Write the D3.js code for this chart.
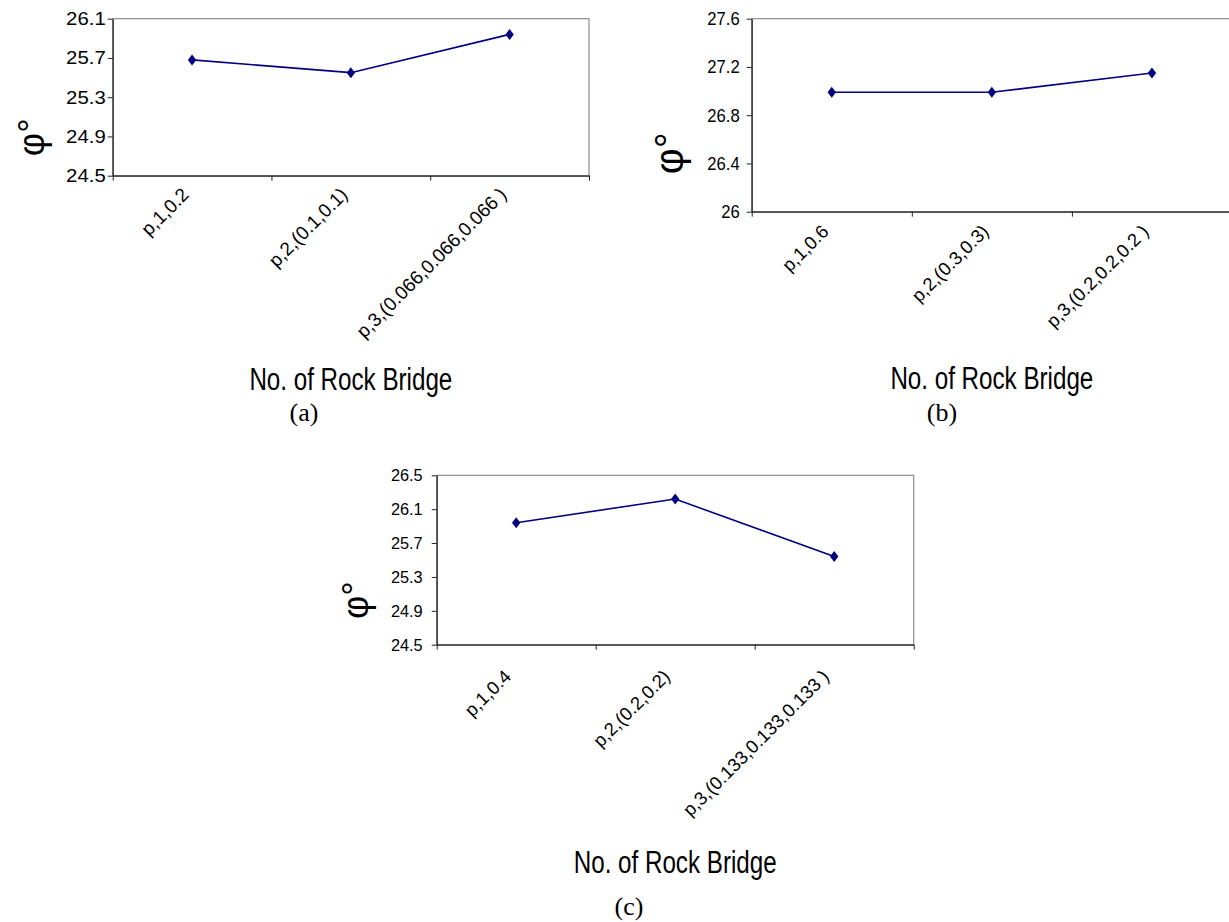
<!DOCTYPE html>
<html>
<head>
<meta charset="utf-8">
<script src="https://cdn.jsdelivr.net/npm/d3@7"></script>
<style>
  body { margin: 0; background: #fff; }
  svg { display: block; }
  text { font-family: "Liberation Sans", Arial, sans-serif; fill: #000; }
</style>
</head>
<body>
<div id="graph"></div>
<script>
// data
var categoriesA = ["p,1,0.2", "p,2,(0.1,0.1)", "p,3,(0.066,0.066,0.066 )"];
var valuesA = [25.68, 25.55, 25.94];
var yTicksA = [24.5, 24.9, 25.3, 25.7, 26.1];

var categoriesB = ["p,1,0.6", "p,2,(0.3,0.3)", "p,3,(0.2,0.2,0.2 )"];
var valuesB = [26.99, 26.99, 27.15];
var yTicksB = [26, 26.4, 26.8, 27.2, 27.6];

var categoriesC = ["p,1,0.4", "p,2,(0.2,0.2)", "p,3,(0.133,0.133,0.133 )"];
var valuesC = [25.94, 26.22, 25.54];
var yTicksC = [24.5, 24.9, 25.3, 25.7, 26.1, 26.5];

var xTitle = "No. of Rock Bridge";
var yTitle = "\u03C6\u00B0";
var panelTags = ["(a)", "(b)", "(c)"];

var width = 1229;
var height = 922;

var svg = d3.select("#graph").append("svg")
  .attr("width", width)
  .attr("height", height);

//squeeze / stretch a text node horizontally
function fitText(sel, factor) {
  sel.each(function() {
    var len = this.getComputedTextLength();
    d3.select(this)
      .attr("textLength", len * factor)
      .attr("lengthAdjust", "spacingAndGlyphs");
  });
}

var diamond = {
  draw: function(ctx, size) {
    ctx.moveTo(0, -5.5);
    ctx.lineTo(4.2, 0);
    ctx.lineTo(0, 5.5);
    ctx.lineTo(-4.2, 0);
    ctx.closePath();
  }
};

function renderPanel(p) {
  var g = svg.append("g");

  let x = d3.scaleBand()
    .domain(p.cats)
    .range([p.x0, p.x1])
    .paddingInner(0)
    .paddingOuter(0);
  let xt = d3.scaleLinear()
    .domain([0, p.cats.length])
    .range([p.x0, p.x1]);
  let y = d3.scaleLinear()
    .domain([p.ticks[0], p.ticks[p.ticks.length - 1]])
    .range([p.y1, p.y0]);

  //plot area border
  g.append("rect")
    .attr("x", p.x0)
    .attr("y", p.y0)
    .attr("width", p.x1 - p.x0)
    .attr("height", p.y1 - p.y0)
    .attr("fill", "none")
    .attr("stroke", "#8c8c8c")
    .attr("stroke-width", 1.2);

  //y axis
  let yAxis = g.append("g")
    .attr("transform", "translate(" + p.x0 + ",0)")
    .call(d3.axisLeft(y)
      .tickValues(p.ticks)
      .tickSize(5)
      .tickSizeOuter(0)
      .tickPadding(p.tickGap)
      .tickFormat(function(d) { return String(d); }));
  yAxis.select(".domain").attr("stroke", "#222").attr("stroke-width", 1.2);
  yAxis.selectAll(".tick line").attr("stroke", "#222");
  yAxis.selectAll(".tick text")
    .attr("font-family", null)
    .attr("font-size", p.tickFont)
    .attr("fill", "#000")
    .call(fitText, p.tickSx);

  //x axis, ticks on the category boundaries
  let xAxis = g.append("g")
    .attr("transform", "translate(0," + p.y1 + ")")
    .call(d3.axisBottom(xt)
      .tickValues(d3.range(p.cats.length + 1))
      .tickSize(5)
      .tickSizeOuter(0)
      .tickFormat(""));
  xAxis.select(".domain").attr("stroke", "#222").attr("stroke-width", 1.2);
  xAxis.selectAll(".tick line").attr("stroke", "#222");

  //rotated category labels
  g.selectAll(".cat")
    .data(p.cats)
    .enter()
    .append("text")
    .attr("class", "cat")
    .attr("text-anchor", "end")
    .attr("font-size", p.catFont)
    .attr("transform", function(d) {
      return "translate(" + (x(d) + x.bandwidth() / 2 + p.catDx) + "," + (p.y1 + p.catDy) + ") rotate(-45)";
    })
    .text(function(d) { return d; });

  //the series line and markers
  let pts = p.cats.map(function(c, i) { return {cat: c, val: p.vals[i]}; });
  let val_line = d3.line()
    .x(function(d) { return x(d.cat) + x.bandwidth() / 2; })
    .y(function(d) { return y(d.val); });
  g.append("path")
    .datum(pts)
    .attr("d", val_line)
    .attr("fill", "none")
    .attr("stroke", "#000080")
    .attr("stroke-width", 1.6);
  g.selectAll(".pt")
    .data(pts)
    .enter()
    .append("path")
    .attr("class", "pt")
    .attr("d", d3.symbol().type(diamond))
    .attr("fill", "#000080")
    .attr("transform", function(d) {
      return "translate(" + (x(d.cat) + x.bandwidth() / 2) + "," + y(d.val) + ")";
    });

  //axis titles
  g.append("text")
    .attr("x", (p.x0 + p.x1) / 2)
    .attr("y", p.titleY)
    .attr("text-anchor", "middle")
    .attr("font-size", 31)
    .text(xTitle)
    .call(fitText, p.titleSx);

  let cy = (p.y0 + p.y1) / 2 + 48;
  g.append("text")
    .attr("transform", "translate(" + (p.x0 - 61 - 8) + "," + (cy + 11) + ") rotate(-90)")
    .attr("text-anchor", "start")
    .attr("font-size", p.phiFont)
    .text(yTitle);

  //panel tag
  g.append("text")
    .attr("x", p.tagX)
    .attr("y", p.tagY)
    .attr("text-anchor", "middle")
    .style("font-family", "'Liberation Serif', 'Times New Roman', serif")
    .attr("font-size", 26)
    .text(p.tag);
}

var panels = [
  {cats: categoriesA, vals: valuesA, ticks: yTicksA, tag: panelTags[0],
   x0: 112.7, x1: 589, y0: 18.7, y1: 175.7,
   tickFont: 18.5, tickSx: 1.1, tickGap: 2, catFont: 19, catDx: -2, catDy: 20,
   titleY: 390, titleSx: 0.78, phiFont: 36, tagX: 304, tagY: 421},
  {cats: categoriesB, vals: valuesB, ticks: yTicksB, tag: panelTags[1],
   x0: 751.7, x1: 1232, y0: 18.7, y1: 211.7,
   tickFont: 18.5, tickSx: 0.9, tickGap: 7, catFont: 18.5, catDx: -2, catDy: 21,
   titleY: 389, titleSx: 0.78, phiFont: 40, tagX: 942, tagY: 421},
  {cats: categoriesC, vals: valuesC, ticks: yTicksC, tag: panelTags[2],
   x0: 436.7, x1: 913.7, y0: 475.3, y1: 644.7,
   tickFont: 17, tickSx: 0.96, tickGap: 9, catFont: 18.5, catDx: -4, catDy: 33,
   titleY: 873, titleSx: 0.78, phiFont: 36, tagX: 629, tagY: 915}
];

for (let p of panels) {
  renderPanel(p);
}
</script>
</body>
</html>
